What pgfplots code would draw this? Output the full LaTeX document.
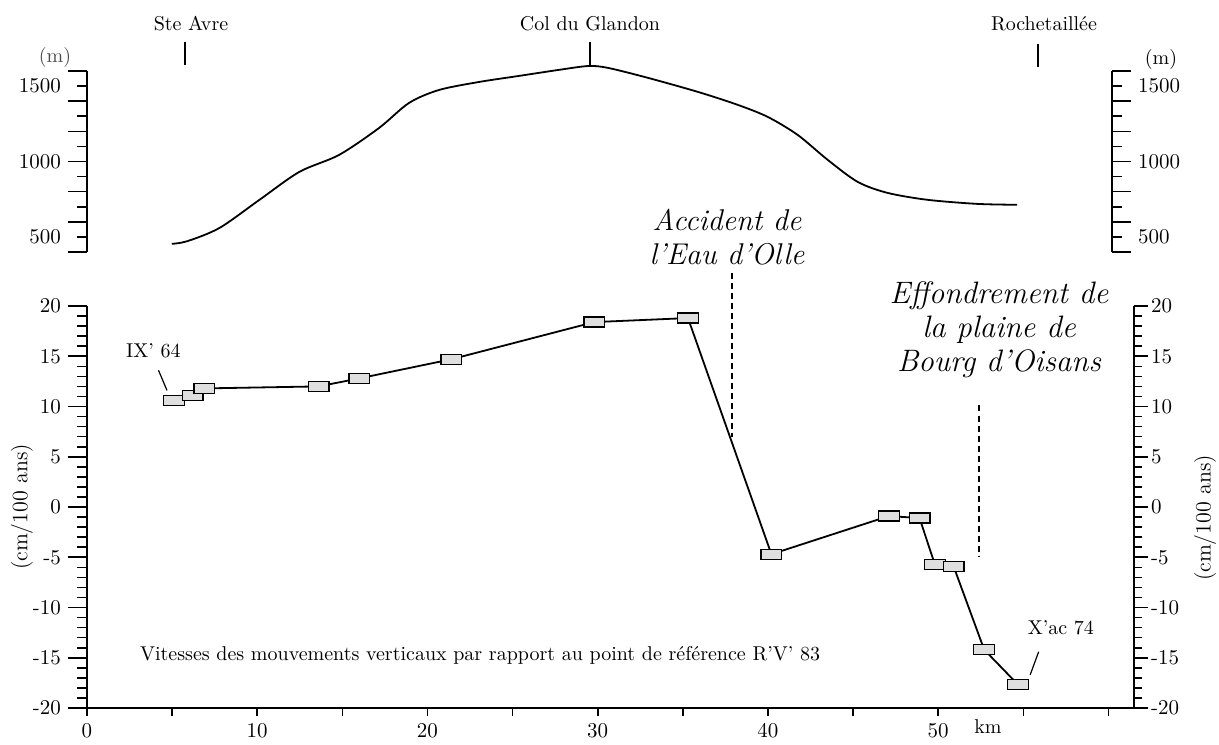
\documentclass[border=0pt]{standalone}
\usepackage{pgfplots}
\pgfplotsset{compat=1.18}
% rectangular station mark
\pgfdeclareplotmark{rect}{%
  \pgfpathrectangle{\pgfpoint{-5.2pt}{-2.5pt}}{\pgfpoint{10.4pt}{5pt}}%
  \pgfusepathqfillstroke}
\pgfplotsset{
  base/.style={scale only axis, anchor=south west, clip=false,
    axis line style={-, line width=1pt}, tick align=outside,
    tick style={black, line width=0.8pt},
    tick label style={font=\fontsize{10.5}{12}\selectfont}},
  profile/.style={base, at={(0pt,228pt)}, width=512.5pt, height=90.5pt,
    xmin=0, xmax=60.2, ymin=400, ymax=1600, axis x line=none,
    ytick={400,600,...,1600}, yticklabels={},
    minor ytick={500,700,...,1500},
    major tick length=9.5pt, minor tick length=5pt,
    extra y ticks={500,1000,1500}, extra y tick labels={500,1000,1500},
    extra y tick style={major tick style={draw=none}}},
  speed/.style={base, at={(0pt,0pt)}, width=523.5pt, height=201pt,
    xmin=0, xmax=61.5, ymin=-20, ymax=20},
}
\begin{document}
\begin{tikzpicture}[font=\fontsize{10}{12}\selectfont]
\useasboundingbox (-43.5pt,-18pt) rectangle (566pt,354pt);

% ---- profile (top)
\begin{axis}[profile, axis y line*=left]
\addplot[black, line width=0.9pt, smooth, tension=0.5] coordinates {
 (4.98,454) (5.9,472) (7.79,560) (10.13,746) (12.47,931) (14.81,1044)
 (17.15,1222) (18.91,1388) (20.67,1474) (23.01,1527) (25.35,1567)
 (27.69,1607) (29.45,1633) (30.62,1620) (32.96,1554) (35.89,1461)
 (38.23,1375) (39.99,1295) (41.74,1176) (43.50,1011) (45.26,865)
 (47.01,792) (49.36,746) (52.28,719) (54.63,713)};
\end{axis}
\begin{axis}[profile, axis y line*=right]
\end{axis}

% ---- velocities (bottom)
\begin{axis}[speed, axis x line=none, axis y line*=left,
  ytick={-20,-15,...,20}, yticklabels={-20,-15,-10,-5,0,5,10,15,20},
  minor y tick num=4, major tick length=9.5pt, minor tick length=5pt]
\addplot[black, line width=0.9pt, mark=rect,
  mark options={fill=gray!25, line width=0.6pt, solid}] coordinates {
 (5.1,10.6) (6.2,11.1) (6.9,11.8) (13.6,12.0) (16.0,12.8) (21.4,14.7)
 (29.8,18.4) (35.3,18.8) (40.2,-4.7) (47.1,-0.9) (48.9,-1.1) (49.8,-5.7)
 (50.9,-5.9) (52.7,-14.2) (54.7,-17.7)};
\draw[line width=0.8pt, dash pattern=on 3pt off 2pt] (axis cs:37.9,23.3) -- (axis cs:37.9,7.0);
\draw[line width=0.8pt, dash pattern=on 3pt off 2pt] (axis cs:52.4,10.1) -- (axis cs:52.4,-5.0);
\node at (axis cs:3.9,15.5) {IX' 64};
\draw[line width=0.6pt] (axis cs:4.2,13.6) -- (axis cs:4.7,11.6);
\node at (axis cs:57.2,-12.0) {X'ac 74};
\draw[line width=0.6pt] (axis cs:55.9,-14.4) -- (axis cs:55.4,-16.7);
\node[anchor=west] at (axis cs:2.7,-14.8) {Vitesses des mouvements verticaux par rapport au point de r\'ef\'erence R'V' 83};
\end{axis}
\begin{axis}[speed, axis x line=none, axis y line*=right,
  ytick={-20,-15,...,20}, yticklabels={-20,-15,-10,-5,0,5,10,15,20},
  minor y tick num=4, major tick length=7pt, minor tick length=4pt,
  yticklabel style={xshift=-2pt}]
\end{axis}
\begin{axis}[speed, axis y line=none, axis x line*=bottom,
  xtick={0,5,...,60}, xticklabels={0,,10,,20,,30,,40,,50,,},
  major tick length=4pt]
\end{axis}

% ---- texts around the panels
\node at (52pt,342pt) {Ste Avre};
\node at (251.5pt,342pt) {Col du Glandon};
\node at (478.5pt,342pt) {Rochetaill\'ee};
\draw[line width=0.8pt] (49pt,321.5pt) -- (49pt,333pt);
\draw[line width=0.8pt] (251.5pt,321.5pt) -- (251.5pt,333pt);
\draw[line width=0.8pt] (475.5pt,320.5pt) -- (475.5pt,332pt);
\node[text=black!70] at (-16pt,325pt) {(m)};
\node at (537pt,324pt) {(m)};
\node[rotate=90, font=\fontsize{11}{13}\selectfont] at (-32.5pt,100.5pt) {(cm/100 ans)};
\node[rotate=90, font=\fontsize{11}{13}\selectfont] at (559pt,95pt) {(cm/100 ans)};
\node at (450.5pt,-9.5pt) {km};
\node[align=center, font=\fontsize{15}{17}\selectfont\itshape] at (320pt,235.5pt)
  {Accident de\\l'Eau d'Olle};
\node[align=center, font=\fontsize{15.5}{17}\selectfont\itshape] at (456pt,189pt)
  {Effondrement de\\la plaine de\\Bourg d'Oisans};
\end{tikzpicture}
\end{document}
